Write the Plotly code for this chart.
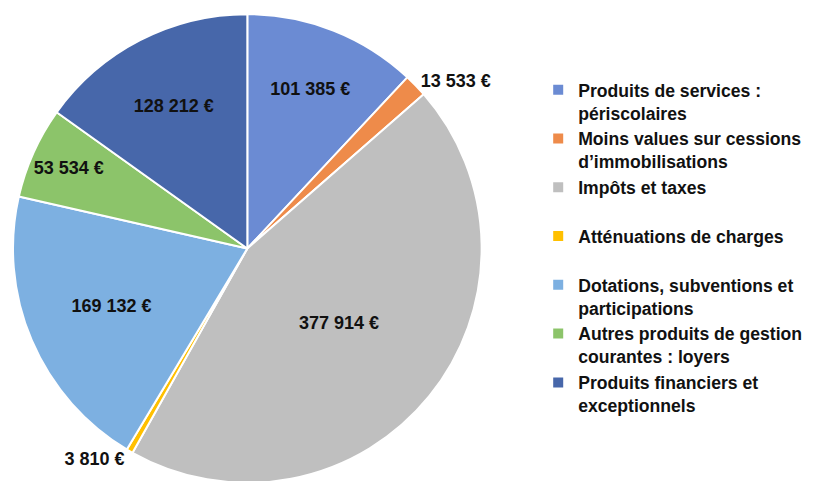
import plotly.graph_objects as go

categories = [
    "Produits de services :<br>périscolaires",
    "Moins values sur cessions<br>d’immobilisations",
    "Impôts et taxes<br> ",
    "Atténuations de charges<br> ",
    "Dotations, subventions et<br>participations",
    "Autres produits de gestion<br>courantes : loyers",
    "Produits financiers et<br>exceptionnels",
]
values = [101385, 13533, 377914, 3810, 169132, 53534, 128212]
colors = ["#6b8bd3", "#ee8b4a", "#bfbfbf", "#ffc000", "#7db0e1", "#8cc46a", "#4767aa"]
text_pos = ["inside", "outside", "inside", "outside", "inside", "inside", "inside"]

fig = go.Figure(go.Pie(
    labels=categories,
    values=values,
    sort=False,
    direction="clockwise",
    rotation=0,
    marker=dict(colors=colors, line=dict(color="white", width=2)),
    texttemplate="<b>%{value:,}\u00a0€</b>",
    textposition=text_pos,
    insidetextorientation="horizontal",
    textfont=dict(family="Liberation Sans, Arial", size=18, color="#111111"),
    domain=dict(x=[0.0, 0.58], y=[0.0, 1.0]),
    hoverinfo="label+value",
))

fig.update_layout(
    width=813, height=481,
    margin=dict(l=0, r=0, t=0, b=0),
    paper_bgcolor="white",
    separators=", ",
    showlegend=True,
    legend=dict(
        x=0.650, y=0.875, xanchor="left", yanchor="top",
        valign="top",
        font=dict(family="Liberation Sans, Arial", size=17.6, color="#111111", weight="bold"),
        itemwidth=30,
    ),
)

fig.write_html("out.html")
